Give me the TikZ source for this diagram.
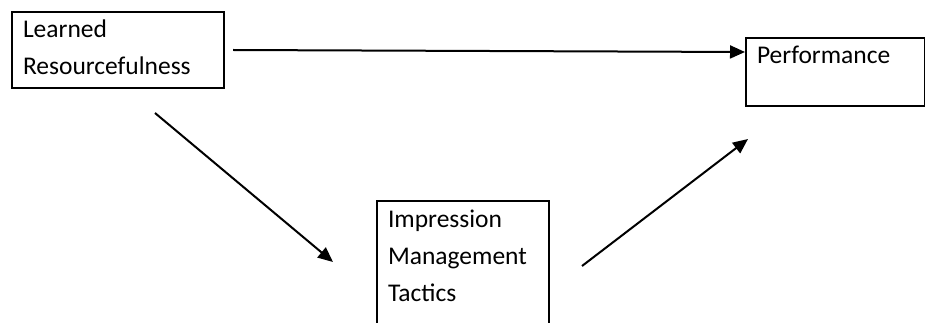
\documentclass[tikz,border=0pt]{standalone}
\usepackage{fontspec}
\setmainfont{Carlito}
\usetikzlibrary{arrows.meta,positioning,calc}

\begin{document}
\begin{tikzpicture}[x=1pt,y=-1pt,
    box/.style={draw, line width=2pt, anchor=north west, align=left,
      inner xsep=11pt, inner ysep=0pt, text height=26pt,
      font=\fontsize{25.5}{37}\selectfont},
    arr/.style={-{Triangle[length=15pt,width=13pt]}, line width=2pt}]

    \clip (0,0) rectangle (925,323);

    \node [box, text width=190pt, text depth=50pt] (lr) at (11,11) {Learned\\Resourcefulness};
    \node [box, text width=157pt, text depth=42pt] (perf) at (745,37) {Performance};
    \node [box, text width=150pt, text depth=150pt] (imt) at (376,200) {Impression\\Management\\Tactics};

    \draw [arr] ([xshift=8pt]lr.east) -- ([yshift=-15pt]perf.north west);
    \draw [arr] ([xshift=-70pt,yshift=-24pt]lr.south east) -- ([xshift=-43pt,yshift=-62pt]imt.north west);
    \draw [arr] ([xshift=32pt,yshift=-66pt]imt.north east) -- ([xshift=3pt,yshift=-32pt]perf.south west);
\end{tikzpicture}
\end{document}
